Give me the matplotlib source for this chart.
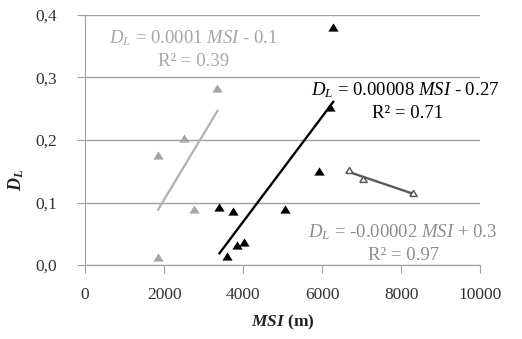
import numpy as np
import matplotlib
matplotlib.use('Agg')
import matplotlib.pyplot as plt

plt.rcParams['font.family'] = 'Liberation Serif'
plt.rcParams['mathtext.fontset'] = 'custom'
plt.rcParams['mathtext.rm'] = 'Liberation Serif'
plt.rcParams['mathtext.it'] = 'Liberation Serif:italic'
plt.rcParams['mathtext.bf'] = 'Liberation Serif:bold'
plt.rcParams['mathtext.bfit'] = 'Liberation Serif:italic:bold'

# group 1 (light gray)
msi_g = [1850, 1850, 2500, 2750, 3350]
dl_g = [0.176, 0.013, 0.204, 0.089, 0.283]
# group 2 (black)
msi_b = [6280, 6200, 5920, 3400, 3750, 5060, 3850, 4020, 3600]
dl_b = [0.381, 0.253, 0.150, 0.093, 0.086, 0.089, 0.032, 0.037, 0.014]
# group 3 (hollow)
msi_h = [6680, 7040, 8300]
dl_h = [0.152, 0.137, 0.115]

eq_g = ['$D_L$ = 0.0001 $MSI$ - 0.1', 'R² = 0.39']
eq_b = ['$D_L$ = 0.00008 $MSI$ - 0.27', 'R² = 0.71']
eq_h = ['$D_L$ = -0.00002 $MSI$ + 0.3', 'R² = 0.97']

# flattened triangle marker (wider than tall)
tri = [(-1, -0.8), (1, -0.8), (0, 0.8), (-1, -0.8)]

fig = plt.figure(figsize=(5.22, 3.39), dpi=100)
ax = fig.add_axes([0.163, 0.218, 0.757, 0.738])

def trend(x, y):
    a, b = np.polyfit(x, y, 1)
    xx = np.array([min(x), max(x)])
    return xx, a*xx + b

xx, yy = trend(msi_g, dl_g)
ax.plot(xx, yy, color='#b4b4b4', lw=1.7, zorder=2)
xx, yy = trend(msi_b, dl_b)
ax.plot(xx, yy, color='black', lw=1.7, zorder=2)
xx, yy = trend(msi_h, dl_h)
ax.plot(xx, yy, color='#5a5a5a', lw=1.7, zorder=2)

ax.scatter(msi_g, dl_g, marker=tri, s=55, color='#a6a6a6', zorder=3, linewidths=0)
ax.scatter(msi_b, dl_b, marker=tri, s=55, color='black', zorder=3, linewidths=0)
ax.scatter(msi_h, dl_h, marker=tri, s=28, facecolor='white', edgecolor='#5a5a5a', linewidths=1.1, zorder=4)

fs = 13.5
ax.text(2734, 0.363, eq_g[0], color='#a6a6a6', fontsize=fs, ha='center', va='center')
ax.text(2734, 0.325, eq_g[1], color='#a6a6a6', fontsize=fs, ha='center', va='center')
ax.text(8100, 0.280, eq_b[0], color='black', fontsize=fs, ha='center', va='center')
ax.text(8150, 0.243, eq_b[1], color='black', fontsize=fs, ha='center', va='center')
ax.text(8030, 0.053, eq_h[0], color='#8c8c8c', fontsize=fs, ha='center', va='center')
ax.text(8050, 0.016, eq_h[1], color='#8c8c8c', fontsize=fs, ha='center', va='center')

ax.set_xlim(0, 10000)
ax.set_ylim(0, 0.4)
ax.set_xticks(np.arange(0, 10001, 2000))
ax.set_yticks([0, 0.1, 0.2, 0.3, 0.4])
ax.set_yticklabels(['0,0', '0,1', '0,2', '0,3', '0,4'])
ax.grid(axis='y', color='#a0a0a0', lw=1)
ax.set_axisbelow(True)
for s in ['top', 'right']:
    ax.spines[s].set_visible(False)
for s in ['left', 'bottom']:
    ax.spines[s].set_color('#a0a0a0')
ax.tick_params(colors='#a0a0a0', labelcolor='#333333', labelsize=12.5, length=6)
ax.tick_params(axis='y', pad=14)
ax.tick_params(axis='x', pad=10)

ax.set_ylabel(r'$\mathbfit{D_L}$', fontsize=13, color='#222222')
ax.yaxis.set_label_coords(-0.15, 0.34)
ax.set_xlabel(r'$\mathbfit{MSI}$ (m)', fontsize=12.5, fontweight='bold', color='#222222', labelpad=7)

fig.savefig('out.png', dpi=100)
